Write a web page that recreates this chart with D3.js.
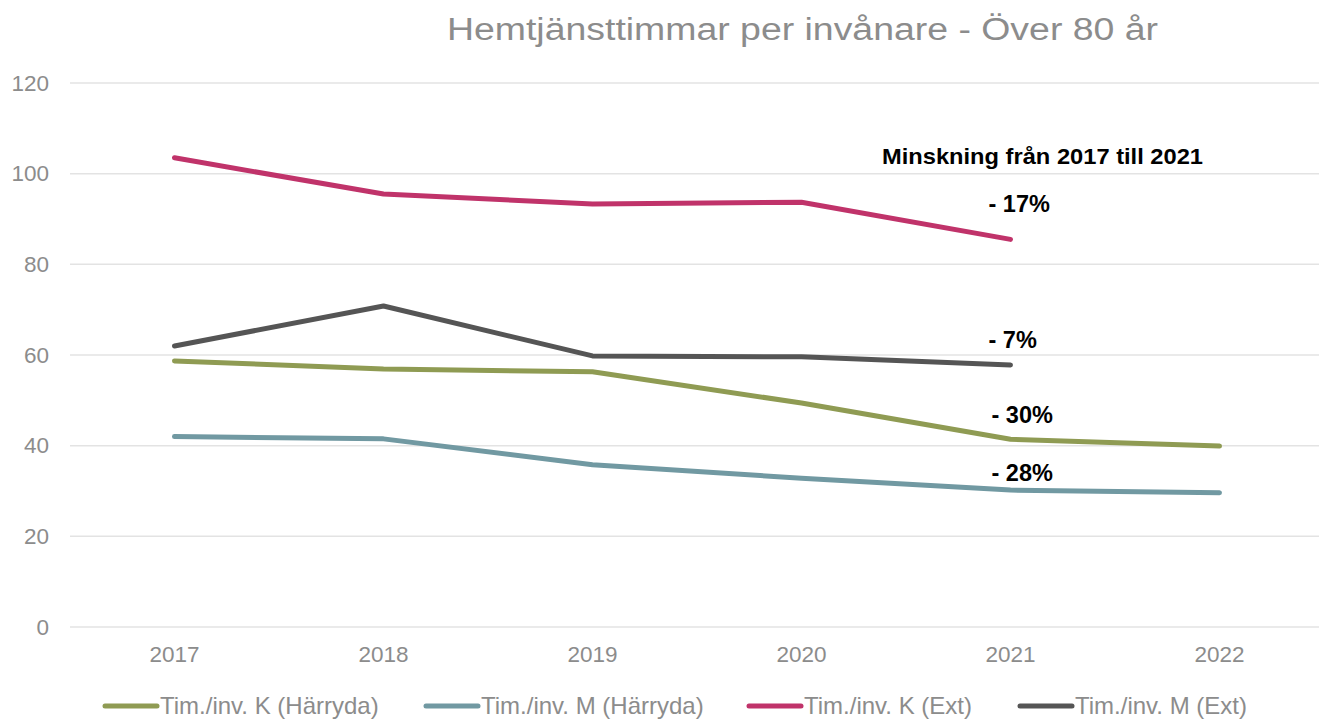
<!DOCTYPE html>
<html>
<head>
<meta charset="utf-8">
<script src="https://cdn.jsdelivr.net/npm/d3@7"></script>
<style>
  body { margin: 0; background: #fff; }
  svg { display: block; font-family: "Liberation Sans", Arial, sans-serif; }
</style>
</head>
<body>
<div id="chart"></div>
<script>
// data
var years = ["2017", "2018", "2019", "2020", "2021", "2022"];
var kHarryda = [58.7, 56.9, 56.3, 49.4, 41.4, 39.9];
var mHarryda = [42.0, 41.5, 35.8, 32.8, 30.2, 29.6];
var kExt = [103.5, 95.5, 93.3, 93.7, 85.5];
var mExt = [62.0, 70.8, 59.8, 59.6, 57.8];
var yTicks = [0, 20, 40, 60, 80, 100, 120];
var seriesNames = ["Tim./inv. K (Härryda)", "Tim./inv. M (Härryda)", "Tim./inv. K (Ext)", "Tim./inv. M (Ext)"];
var seriesColors = ["#8f9b53", "#7199a2", "#c0336a", "#555555"];
var notes = ["- 17%", "- 7%", "- 30%", "- 28%"];
var noteValues = [93.4, 63.4, 46.9, 34.1];

var width = 1319, height = 719;
var margin = { top: 83, right: -5, bottom: 92, left: 70 };

var svg = d3.select("#chart")
    .append("svg")
    .attr("width", width)
    .attr("height", height);

var x = d3.scaleBand()
    .domain(years)
    .range([margin.left, width - margin.right]);

var y = d3.scaleLinear()
    .domain([0, 120])
    .range([height - margin.bottom, margin.top]);

// title
svg.append("text")
    .attr("x", 447)
    .attr("y", 40)
    .attr("textLength", 711)
    .attr("lengthAdjust", "spacingAndGlyphs")
    .style("font-size", "31px")
    .style("fill", "#8c8c8c")
    .text("Hemtjänsttimmar per invånare - Över 80 år");

// gridlines
svg.append("g")
    .selectAll("line")
    .data(yTicks)
    .enter()
    .append("line")
    .attr("x1", margin.left)
    .attr("x2", width)
    .attr("y1", function (d) { return y(d); })
    .attr("y2", function (d) { return y(d); })
    .attr("stroke", "#e3e3e3")
    .attr("stroke-width", 1.5);

// y axis
var yAxis = svg.append("g")
    .attr("transform", "translate(" + margin.left + ",0)")
    .call(d3.axisLeft(y).tickValues(yTicks).tickSize(0).tickPadding(21));
yAxis.select(".domain").remove();
yAxis.selectAll("text")
    .style("font-size", "22.5px")
    .style("fill", "#8c8c8c")
    .style("font-family", "Liberation Sans, Arial, sans-serif");

// x axis
var xAxis = svg.append("g")
    .attr("transform", "translate(0," + y(0) + ")")
    .call(d3.axisBottom(x).tickSize(0).tickPadding(19));
xAxis.select(".domain").remove();
xAxis.selectAll("text")
    .style("font-size", "22.5px")
    .style("fill", "#8c8c8c")
    .style("font-family", "Liberation Sans, Arial, sans-serif");

var line = d3.line()
    .x(function (d, i) { return x(years[i]) + x.bandwidth() / 2; })
    .y(function (d) { return y(d); });

var allSeries = [kHarryda, mHarryda, kExt, mExt];
svg.append("g")
    .selectAll("path")
    .data(allSeries)
    .enter()
    .append("path")
    .attr("d", line)
    .attr("fill", "none")
    .attr("stroke", function (d, i) { return seriesColors[i]; })
    .attr("stroke-width", 5)
    .attr("stroke-linecap", "round")
    .attr("stroke-linejoin", "round");

// annotations
var noteX = x("2021") + x.bandwidth() / 2;
svg.append("text")
    .attr("x", 882)
    .attr("y", 164)
    .attr("textLength", 321)
    .attr("lengthAdjust", "spacingAndGlyphs")
    .style("font-size", "21.5px")
    .style("font-weight", "bold")
    .style("fill", "#000")
    .text("Minskning från 2017 till 2021");

svg.append("g")
    .selectAll("text")
    .data(notes)
    .enter()
    .append("text")
    .attr("x", function (d, i) { return noteX + (i < 2 ? -22 : -19); })
    .attr("y", function (d, i) { return y(noteValues[i]); })
    .attr("dy", "0.35em")
    .style("font-size", "23.5px")
    .style("font-weight", "bold")
    .style("fill", "#000")
    .text(function (d) { return d; });

// legend
var legendX = [103, 424, 747, 1018];
var legend = svg.append("g")
    .selectAll("g")
    .data(seriesNames)
    .enter()
    .append("g")
    .attr("transform", function (d, i) { return "translate(" + legendX[i] + ",706)"; });
legend.append("line")
    .attr("x1", 2)
    .attr("x2", 54)
    .attr("stroke", function (d, i) { return seriesColors[i]; })
    .attr("stroke-width", 5)
    .attr("stroke-linecap", "round");
legend.append("text")
    .attr("x", 57)
    .attr("dy", "0.35em")
    .style("font-size", "24px")
    .style("fill", "#8c8c8c")
    .text(function (d) { return d; });
</script>
</body>
</html>
